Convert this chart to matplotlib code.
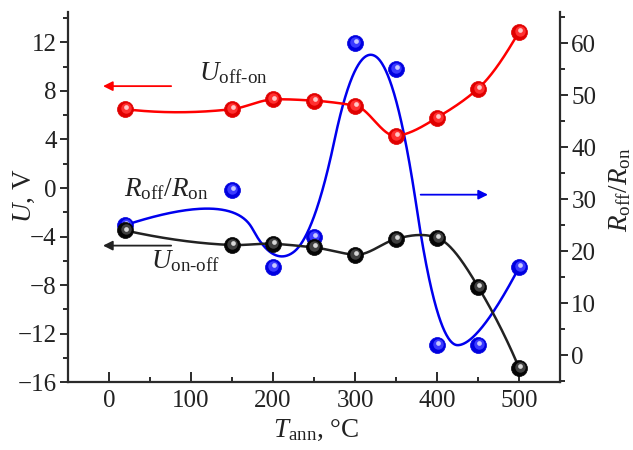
import numpy as np
import matplotlib
matplotlib.use("Agg")
import matplotlib.pyplot as plt
from matplotlib.transforms import offset_copy
from matplotlib.ticker import MultipleLocator

plt.rcParams['font.family'] = ['Liberation Serif', 'DejaVu Serif']
plt.rcParams['mathtext.fontset'] = 'custom'
plt.rcParams['mathtext.rm'] = 'Liberation Serif'
plt.rcParams['mathtext.it'] = 'Liberation Serif:italic'
plt.rcParams['axes.unicode_minus'] = True

# ---- data ----
T_ann = [20, 150, 200, 250, 300, 350, 400, 450, 500]
U_off_on = [6.5, 6.5, 7.3, 7.2, 6.8, 4.3, 5.8, 8.2, 12.9]
U_on_off = [-3.5, -4.7, -4.6, -4.9, -5.5, -4.2, -4.1, -8.15, -14.85]
R_ratio = [25.0, 31.7, 16.9, 22.7, 60.0, 55.0, 1.9, 1.9, 16.9]


def akima(x, y, n=500):
    x = np.asarray(x, float); y = np.asarray(y, float)
    N = len(x)
    m = np.diff(y) / np.diff(x)
    mm = np.concatenate([[3 * m[0] - 2 * m[1], 2 * m[0] - m[1]], m,
                         [2 * m[-1] - m[-2], 3 * m[-1] - 2 * m[-2]]])
    t = np.zeros(N)
    for i in range(N):
        w1 = abs(mm[i + 3] - mm[i + 2]); w2 = abs(mm[i + 1] - mm[i])
        if w1 + w2 < 1e-12:
            t[i] = 0.5 * (mm[i + 1] + mm[i + 2])
        else:
            t[i] = (w1 * mm[i + 1] + w2 * mm[i + 2]) / (w1 + w2)
    xs = np.linspace(x[0], x[-1], n)
    idx = np.clip(np.searchsorted(x, xs) - 1, 0, N - 2)
    h = x[idx + 1] - x[idx]
    s = (xs - x[idx]) / h
    h00 = 2 * s ** 3 - 3 * s ** 2 + 1; h10 = s ** 3 - 2 * s ** 2 + s
    h01 = -2 * s ** 3 + 3 * s ** 2; h11 = s ** 3 - s ** 2
    ys = h00 * y[idx] + h10 * h * t[idx] + h01 * y[idx + 1] + h11 * h * t[idx + 1]
    return xs, ys


def bspline(x, y, k=2, n=600):
    P = np.column_stack([x, y]).astype(float)
    m = len(P)
    inner = np.linspace(0, 1, m - k + 1)[1:-1]
    knots = np.concatenate([np.zeros(k + 1), inner, np.ones(k + 1)])
    ts = np.linspace(0, 1 - 1e-9, n)

    def basis(i, p, t):
        if p == 0:
            return np.where((knots[i] <= t) & (t < knots[i + 1]), 1.0, 0.0)
        a = 0.0
        d1 = knots[i + p] - knots[i]
        d2 = knots[i + p + 1] - knots[i + 1]
        if d1 > 0:
            a = a + (t - knots[i]) / d1 * basis(i, p - 1, t)
        if d2 > 0:
            a = a + (knots[i + p + 1] - t) / d2 * basis(i + 1, p - 1, t)
        return a

    B = np.array([basis(i, k, ts) for i in range(m)])
    C = B.T @ P
    C[-1] = P[-1]
    return C[:, 0], C[:, 1]


fig = plt.figure(figsize=(6.33, 4.5), dpi=100)
ax = fig.add_axes([0.107, 0.151, 0.778, 0.822])
ax2 = ax.twinx()

ax.set_xlim(-50, 550)
ax.set_ylim(-16, 14.5)
ax2.set_ylim(-5.2, 66)

ink = '#2b2b2b'
txt = '#222222'
for a in (ax, ax2):
    a.spines['top'].set_visible(False)
    for s in a.spines.values():
        s.set_linewidth(1.6)
        s.set_color(ink)
ax.spines['right'].set_visible(False)
ax2.spines['left'].set_visible(False)
ax2.spines['bottom'].set_visible(False)

ax.xaxis.set_major_locator(MultipleLocator(100))
ax.xaxis.set_minor_locator(MultipleLocator(50))
ax.yaxis.set_major_locator(MultipleLocator(4))
ax.yaxis.set_minor_locator(MultipleLocator(2))
ax2.yaxis.set_major_locator(MultipleLocator(10))
ax2.yaxis.set_minor_locator(MultipleLocator(5))
ax.set_xticks([0, 100, 200, 300, 400, 500])

FS = 18
LS = 19.5
ax.tick_params(axis='x', which='major', direction='in', length=7, width=1.4, colors=ink, labelsize=FS, pad=6)
ax.tick_params(axis='x', which='minor', direction='in', length=3.6, width=1.4, colors=ink)
ax.tick_params(axis='y', which='major', direction='out', length=6, width=1.4, colors=ink, labelsize=FS, pad=2)
ax.tick_params(axis='y', which='minor', direction='out', length=3.5, width=1.4, colors=ink)
ax2.tick_params(axis='y', which='major', direction='out', length=6, width=1.4, colors=ink, labelsize=FS, pad=2)
ax2.tick_params(axis='y', which='minor', direction='out', length=3.5, width=1.4, colors=ink)
for a in (ax, ax2):
    for lab in a.get_xticklabels() + a.get_yticklabels():
        lab.set_color(txt)

# axis titles
ax.text(0.505, -0.098, r'$T_{\mathrm{ann}}$, °C', fontsize=LS, color=txt,
        ha='center', va='top', transform=ax.transAxes)
ax.text(-0.063, 0.503, r'$U$, V', fontsize=LS, color=txt, rotation=90,
        ha='right', va='center', transform=ax.transAxes)
ax.text(1.095, 0.52, r'$R_{\mathrm{off}}/R_{\mathrm{on}}$', fontsize=LS, color=txt, rotation=90,
        ha='left', va='center', transform=ax.transAxes)


def spheres(axis, x, y, base, mid, light, z):
    axis.plot(x, y, 'o', ms=11.5, mfc=base, mec=base, mew=0.5, zorder=z)
    t1 = offset_copy(axis.transData, fig=fig, x=0.3, y=0.7, units='points')
    axis.plot(x, y, 'o', ms=7.5, mfc=mid, mec='none', zorder=z + 0.1, transform=t1)
    t2 = offset_copy(axis.transData, fig=fig, x=0.5, y=1.4, units='points')
    axis.plot(x, y, 'o', ms=3.4, mfc=light, mec='none', zorder=z + 0.2, transform=t2)


# blue (right axis)
bx, by = bspline(T_ann, R_ratio)
ax2.plot(bx, by, color='#0000ee', lw=1.8, zorder=3)
spheres(ax2, T_ann, R_ratio, '#0000e0', '#3a3aff', '#c8c8ff', 4)

# red
rx, ry = akima(T_ann, U_off_on)
ax.plot(rx, ry, color='#ff0000', lw=1.8, zorder=3)
spheres(ax, T_ann, U_off_on, '#e00000', '#ff3030', '#ffc8c8', 4)

# black
kx, ky = akima(T_ann, U_on_off)
ax.plot(kx, ky, color='#222222', lw=1.8, zorder=3)
spheres(ax, T_ann, U_on_off, '#050505', '#404040', '#d8d8d8', 4)

ax.set_zorder(ax2.get_zorder() + 1)
ax.patch.set_visible(False)

# annotations
ax.annotate('', xy=(-7, 8.4), xytext=(76, 8.4),
            arrowprops=dict(arrowstyle='-|>', color='#ff0000', lw=1.3, mutation_scale=14, shrinkA=0, shrinkB=0))
ax.text(110, 8.9, r'$U_{\mathrm{off\text{-}on}}$', fontsize=LS, color=txt, ha='left', va='baseline')

ax.annotate('', xy=(-7, -4.75), xytext=(76, -4.75),
            arrowprops=dict(arrowstyle='-|>', color='#222222', lw=1.3, mutation_scale=14, shrinkA=0, shrinkB=0))
ax.text(52, -6.6, r'$U_{\mathrm{on\text{-}off}}$', fontsize=LS, color=txt, ha='left', va='baseline')

ax.text(19, -0.7, r'$R_{\mathrm{off}}/R_{\mathrm{on}}$', fontsize=LS, color=txt, ha='left', va='baseline')
ax.annotate('', xy=(462, -0.55), xytext=(380, -0.55),
            arrowprops=dict(arrowstyle='-|>', color='#0000ee', lw=1.3, mutation_scale=14, shrinkA=0, shrinkB=0))

fig.savefig('out.png', dpi=100)
